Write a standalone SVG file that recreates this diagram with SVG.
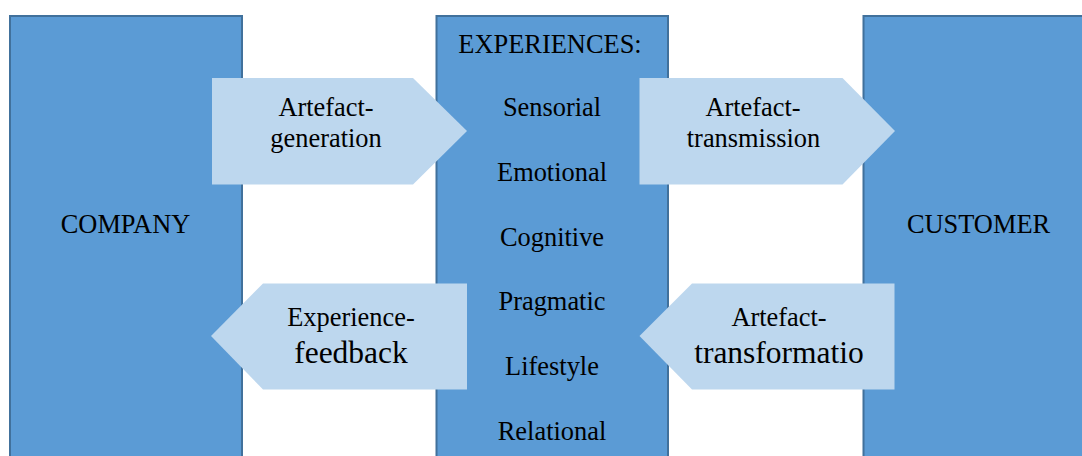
<svg xmlns="http://www.w3.org/2000/svg" width="1082" height="456" viewBox="0 0 1082 456">
  <style>
    .block { fill: #5B9BD5; stroke: #41719C; stroke-width: 2; }
    .flow { fill: #BDD7EE; stroke: none; }
    .lbl { font-size: 26.4px; fill: #000000; text-anchor: middle; }
    .big { font-size: 31.5px; }
  </style>
  <rect width="1082" height="456" fill="#FFFFFF"/>

  <g font-family="'Liberation Serif', 'Times New Roman', Times, serif">
  <!-- Column blocks (they run past the lower edge) -->
  <g id="company">
    <rect class="block" x="10" y="16" width="232" height="460"/>
    <text class="lbl" x="125.5" y="233">COMPANY</text>
  </g>
  <g id="experiences">
    <rect class="block" x="436.5" y="16" width="231.5" height="460"/>
    <text class="lbl" x="550" y="53">EXPERIENCES:</text>
    <text class="lbl" x="552" y="116">Sensorial</text>
    <text class="lbl" x="552" y="181">Emotional</text>
    <text class="lbl" x="552" y="245.5">Cognitive</text>
    <text class="lbl" x="552" y="310">Pragmatic</text>
    <text class="lbl" x="552" y="375">Lifestyle</text>
    <text class="lbl" x="552" y="439.5">Relational</text>
  </g>
  <g id="customer">
    <rect class="block" x="863.5" y="16" width="240" height="460"/>
    <text class="lbl" x="978.5" y="233">CUSTOMER</text>
  </g>

  <!-- Flow arrows between the blocks -->
  <g id="connectors">
    <g id="artefact-generation">
      <polygon class="flow" points="212,78 413,78 467,131 413,184.5 212,184.5"/>
      <text class="lbl" x="326" y="116">Artefact-</text>
      <text class="lbl" x="326" y="147">generation</text>
    </g>
    <g id="artefact-transmission">
      <polygon class="flow" points="639.5,78 842.5,78 895,131 842.5,184.5 639.5,184.5"/>
      <text class="lbl" x="753" y="116">Artefact-</text>
      <text class="lbl" x="753.5" y="147">transmission</text>
    </g>
    <g id="experience-feedback">
      <polygon class="flow" points="211,336 263,283.5 467,283.5 467,389.5 263,389.5"/>
      <text class="lbl" x="351" y="326">Experience-</text>
      <text class="lbl big" x="351" y="363">feedback</text>
    </g>
    <g id="artefact-transformation">
      <polygon class="flow" points="639.5,336 692,283.5 894.5,283.5 894.5,389.5 692,389.5"/>
      <text class="lbl" x="779" y="325.5">Artefact-</text>
      <text class="lbl big" x="779" y="363">transformatio</text>
    </g>
  </g>
  </g>
</svg>
